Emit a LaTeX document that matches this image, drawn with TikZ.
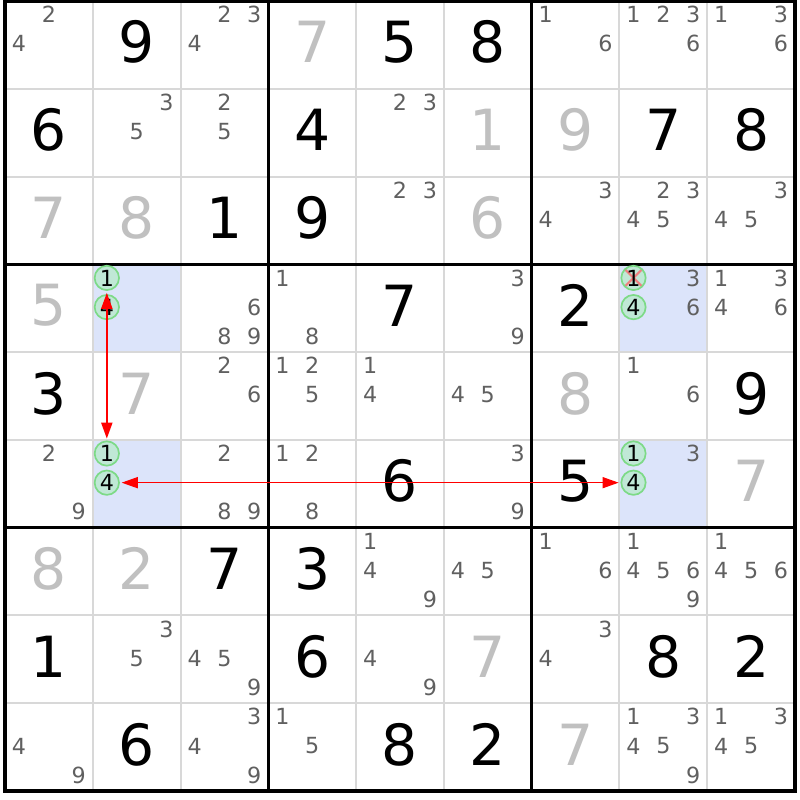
\documentclass[tikz,border=0pt]{standalone}
\usepackage{fontspec}
\setmainfont{DejaVu Sans}
\usepackage{tikz}
\usetikzlibrary{arrows.meta}
\definecolor{lineagris}{RGB}{216,216,216}
\definecolor{llenogris}{RGB}{192,192,192}
\definecolor{candgris}{RGB}{96,96,96}
\definecolor{celdaazul}{RGB}{220,228,250}
\definecolor{marcaverde}{RGB}{125,218,135}
\definecolor{marcafondo}{RGB}{192,232,214}
\definecolor{tachadorojo}{RGB}{240,128,128}
\tikzstyle{dado} = [inner sep=0pt, text=black, font=\fontsize{18.4}{18.4}\selectfont]
\tikzstyle{lleno} = [dado, text=llenogris]
\tikzstyle{cand} = [inner sep=0pt, text=candgris, font=\fontsize{7.2}{7.2}\selectfont]
\tikzstyle{marca} = [cand, text=black, circle, draw=marcaverde, fill=marcafondo, line width=0.55pt, minimum size=7.9pt]
\tikzstyle{tachado} = [marca, path picture={\draw[tachadorojo, line width=0.7pt] (path picture bounding box.north west) -- (path picture bounding box.south east) (path picture bounding box.north east) -- (path picture bounding box.south west);}]
\tikzstyle{enlace} = [red, line width=0.6pt, >={Triangle[length=5.2pt, width=3.6pt]}, <->, shorten <=0.6pt, shorten >=0.6pt]
\begin{document}
\begin{tikzpicture}[x=1cm, y=-1cm]
	\fill[white] (-0.057,-0.0114) rectangle (9.057,9.102);
	\useasboundingbox (-0.057,-0.0114) rectangle (9.057,9.102);
	\foreach \r/\c in {4/2, 6/2, 4/8, 6/8}
		\fill[celdaazul] (\c-1,\r-1) rectangle (\c,\r);
	\foreach \i in {1,2,4,5,7,8}{
		\draw[lineagris, line width=0.65pt] (\i,0) -- (\i,9);
		\draw[lineagris, line width=0.65pt] (0,\i) -- (9,\i);
	}
	\foreach \i in {0,3,6,9}{
		\draw[black, line width=1.1pt] (\i,-0.02) -- (\i,9.02);
		\draw[black, line width=1.1pt] (-0.02,\i) -- (9.02,\i);
	}
	% dados
	\foreach \r/\c/\n in {1/2/9, 1/5/5, 1/6/8, 2/1/6, 2/4/4, 2/8/7, 2/9/8, 3/3/1, 3/4/9, 4/5/7, 4/7/2, 5/1/3, 5/9/9, 6/5/6, 6/7/5, 7/3/7, 7/4/3, 8/1/1, 8/4/6, 8/8/8, 8/9/2, 9/2/6, 9/5/8, 9/6/2}
		\node[dado] (d\r\c) at (\c-0.5,\r-0.53) {\n};
	\foreach \r/\c/\n in {1/4/7, 2/6/1, 2/7/9, 3/1/7, 3/2/8, 3/6/6, 4/1/5, 5/2/7, 5/7/8, 6/9/7, 7/1/8, 7/2/2, 8/6/7, 9/7/7}
		\node[lleno] (d\r\c) at (\c-0.5,\r-0.53) {\n};
	% candidatos
	\foreach \r/\c/\lista in {1/1/{2,4}, 1/3/{2,3,4}, 1/7/{1,6}, 1/8/{1,2,3,6}, 1/9/{1,3,6}, 2/2/{3,5}, 2/3/{2,5}, 2/5/{2,3}, 3/5/{2,3}, 3/7/{3,4}, 3/8/{2,3,4,5}, 3/9/{3,4,5}, 4/3/{6,8,9}, 4/4/{1,8}, 4/6/{3,9}, 4/8/{3,6}, 4/9/{1,3,4,6}, 5/3/{2,6}, 5/4/{1,2,5}, 5/5/{1,4}, 5/6/{4,5}, 5/8/{1,6}, 6/1/{2,9}, 6/3/{2,8,9}, 6/4/{1,2,8}, 6/6/{3,9}, 6/8/{3}, 7/5/{1,4,9}, 7/6/{4,5}, 7/7/{1,6}, 7/8/{1,4,5,6,9}, 7/9/{1,4,5,6}, 8/2/{3,5}, 8/3/{4,5,9}, 8/5/{4,9}, 8/7/{3,4}, 9/1/{4,9}, 9/3/{3,4,9}, 9/4/{1,5}, 9/8/{1,3,4,5,9}, 9/9/{1,3,4,5}}{
		\foreach \n in \lista {
			\pgfmathsetmacro{\cx}{\c-0.84+0.34*mod(\n-1,3)}
			\pgfmathsetmacro{\cy}{\r-0.845+0.3325*floor((\n-1)/3)}
			\node[cand] (k\r\c\n) at (\cx,\cy) {\n};
		}
	}
	% marcas
	\node[marca] (k421) at (1.16,3.155) {1};
	\node[marca] (k424) at (1.16,3.4875) {4};
	\node[marca] (k621) at (1.16,5.155) {1};
	\node[marca] (k624) at (1.16,5.4875) {4};
	\node[tachado] (k481) at (7.16,3.155) {1};
	\node[marca] (k484) at (7.16,3.4875) {4};
	\node[marca] (k681) at (7.16,5.155) {1};
	\node[marca] (k684) at (7.16,5.4875) {4};
	\draw[enlace] (k421) -- (k621);
	\draw[enlace, line width=0.35pt] (k624) -- (k684);
\end{tikzpicture}
\end{document}
